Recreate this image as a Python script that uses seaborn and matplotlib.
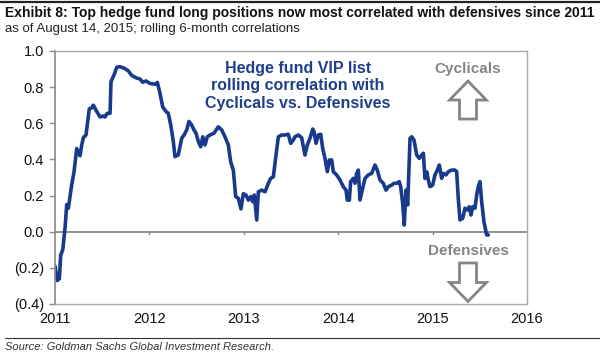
import numpy as np
import pandas as pd
import seaborn as sns
import matplotlib.pyplot as plt
from matplotlib.patches import FancyArrow
from matplotlib.lines import Line2D

# decimal year of each traced point
years = [2011.000, 2011.024, 2011.046, 2011.060, 2011.082, 2011.106, 2011.124, 2011.141,
         2011.177, 2011.201, 2011.230, 2011.265, 2011.283, 2011.300, 2011.328, 2011.363,
         2011.389, 2011.406, 2011.442, 2011.477, 2011.512, 2011.530, 2011.554, 2011.583,
         2011.593, 2011.625, 2011.654, 2011.689, 2011.731, 2011.776, 2011.812, 2011.865,
         2011.900, 2011.929, 2011.964, 2012.006, 2012.059, 2012.084, 2012.112, 2012.141,
         2012.176, 2012.200, 2012.226, 2012.253, 2012.271, 2012.306, 2012.342, 2012.367,
         2012.395, 2012.419, 2012.448, 2012.472, 2012.494, 2012.518, 2012.543, 2012.565,
         2012.589, 2012.613, 2012.642, 2012.684, 2012.730, 2012.766, 2012.801, 2012.836,
         2012.861, 2012.889, 2012.914, 2012.942, 2012.970, 2012.995, 2013.023, 2013.048,
         2013.073, 2013.094, 2013.111, 2013.137, 2013.154, 2013.190, 2013.225, 2013.260,
         2013.285, 2013.313, 2013.341, 2013.366, 2013.401, 2013.436, 2013.471, 2013.497,
         2013.524, 2013.542, 2013.577, 2013.613, 2013.648, 2013.673, 2013.701, 2013.730,
         2013.744, 2013.765, 2013.789, 2013.815, 2013.836, 2013.860, 2013.885, 2013.906,
         2013.931, 2013.948, 2013.984, 2014.019, 2014.054, 2014.083, 2014.096, 2014.118,
         2014.132, 2014.160, 2014.178, 2014.196, 2014.213, 2014.231, 2014.259, 2014.284,
         2014.319, 2014.355, 2014.390, 2014.414, 2014.443, 2014.478, 2014.506, 2014.531,
         2014.567, 2014.591, 2014.620, 2014.647, 2014.662, 2014.683, 2014.700, 2014.718,
         2014.736, 2014.761, 2014.779, 2014.803, 2014.832, 2014.859, 2014.885, 2014.902,
         2014.919, 2014.938, 2014.955, 2014.972, 2015.001, 2015.025, 2015.050, 2015.071,
         2015.096, 2015.113, 2015.142, 2015.166, 2015.202, 2015.237, 2015.255, 2015.272,
         2015.290, 2015.319, 2015.343, 2015.368, 2015.389, 2015.407, 2015.425, 2015.449,
         2015.467, 2015.484, 2015.502, 2015.520, 2015.544, 2015.573, 2015.590]

corr = [-0.19, -0.27, -0.26, -0.13, -0.10, 0.02, 0.15, 0.13,
        0.26, 0.33, 0.46, 0.42, 0.48, 0.52, 0.535, 0.68,
        0.685, 0.70, 0.665, 0.635, 0.64, 0.635, 0.655, 0.655,
        0.83, 0.867, 0.91, 0.913, 0.905, 0.89, 0.865, 0.85,
        0.845, 0.827, 0.834, 0.82, 0.816, 0.826, 0.766, 0.69,
        0.665, 0.655, 0.59, 0.50, 0.415, 0.425, 0.517, 0.535,
        0.563, 0.61, 0.59, 0.563, 0.545, 0.50, 0.47, 0.525,
        0.48, 0.525, 0.535, 0.545, 0.58, 0.563, 0.525, 0.48,
        0.387, 0.34, 0.194, 0.185, 0.126, 0.21, 0.203, 0.175,
        0.194, 0.166, 0.203, 0.065, 0.221, 0.23, 0.221, 0.268,
        0.295, 0.304, 0.424, 0.525, 0.535, 0.535, 0.539, 0.489,
        0.507, 0.525, 0.535, 0.52, 0.424, 0.48, 0.517, 0.568,
        0.553, 0.489, 0.535, 0.539, 0.46, 0.406, 0.332, 0.397,
        0.397, 0.332, 0.314, 0.286, 0.249, 0.23, 0.175, 0.175,
        0.277, 0.295, 0.268, 0.323, 0.341, 0.175, 0.24, 0.295,
        0.314, 0.323, 0.369, 0.341, 0.286, 0.268, 0.23, 0.249,
        0.258, 0.268, 0.268, 0.277, 0.249, 0.157, 0.037, 0.23,
        0.148, 0.517, 0.525, 0.507, 0.424, 0.406, 0.424, 0.434,
        0.295, 0.332, 0.286, 0.249, 0.258, 0.314, 0.341, 0.369,
        0.295, 0.323, 0.314, 0.332, 0.341, 0.341, 0.332, 0.185,
        0.065, 0.074, 0.13, 0.12, 0.138, 0.092, 0.138, 0.13,
        0.203, 0.249, 0.277, 0.166, 0.055, -0.018, -0.018]

x_ticks = [2011, 2012, 2013, 2014, 2015, 2016]
y_ticks = [-0.4, -0.2, 0.0, 0.2, 0.4, 0.6, 0.8, 1.0]
y_labels = ['(0.4)', '(0.2)', '0.0', '0.2', '0.4', '0.6', '0.8', '1.0']

df = pd.DataFrame({'year': years, 'corr': corr})

sns.set_style('white')
plt.rcParams['font.family'] = ['Liberation Sans', 'DejaVu Sans']

fig = plt.figure(figsize=(6, 3.52), dpi=100)
ax = fig.add_axes([0.0917, 0.1364, 0.7866, 0.7188])

navy = '#173a8c'
grey = '#8a8a8a'

sns.lineplot(data=df, x='year', y='corr', ax=ax, color=navy, linewidth=2.6)

ax.set_xlim(2011, 2016)
ax.set_ylim(-0.4, 1.0)
ax.axhline(0, color='#7f7f7f', linewidth=1.2, zorder=1)

ax.set_yticks(y_ticks)
ax.set_yticklabels(y_labels)
ax.set_xticks(x_ticks)
ax.set_xticklabels([str(t) for t in x_ticks])
ax.tick_params(axis='y', length=4, width=1, color=grey, labelsize=10.5, pad=4,
               left=True, labelcolor='#111111')
ax.tick_params(axis='x', length=0, labelsize=10.5, pad=6, labelcolor='#111111')
for yr in x_ticks[1:-1]:
    ax.plot([yr, yr], [0, -0.015], color='#7f7f7f', linewidth=1, clip_on=False)

for side in ['top', 'right', 'bottom']:
    ax.spines[side].set_color('#aaaaaa')
    ax.spines[side].set_linewidth(1)
ax.spines['left'].set_color('#888888')
ax.spines['left'].set_linewidth(1.2)
ax.set_xlabel('')
ax.set_ylabel('')

ax.text(0.515, 0.862, 'Hedge fund VIP list\nrolling correlation with\nCyclicals vs. Defensives',
        transform=ax.transAxes, ha='center', va='center', fontsize=11.5,
        fontweight='bold', color='#203f8a', linespacing=1.2)

ax.text(0.875, 0.93, 'Cyclicals', transform=ax.transAxes, ha='center', va='center',
        fontsize=11, fontweight='bold', color='#858585')
ax.add_patch(FancyArrow(0.875, 0.731, 0, 0.15, width=0.036, head_width=0.078,
                        head_length=0.075, length_includes_head=True,
                        transform=ax.transAxes, facecolor='white',
                        edgecolor='#858585', linewidth=2))

ax.text(0.875, 0.21, 'Defensives', transform=ax.transAxes, ha='center', va='center',
        fontsize=11, fontweight='bold', color='#858585')
ax.add_patch(FancyArrow(0.875, 0.162, 0, -0.152, width=0.036, head_width=0.078,
                        head_length=0.075, length_includes_head=True,
                        transform=ax.transAxes, facecolor='white',
                        edgecolor='#858585', linewidth=2))

fig.add_artist(Line2D([0, 1], [0.994, 0.994], color='#222222', linewidth=1.6))
fig.text(0.008, 0.962, 'Exhibit 8: Top hedge fund long positions now most correlated with defensives since 2011',
         ha='left', va='center', fontsize=10, fontweight='bold', color='#111111')
fig.text(0.008, 0.917, 'as of August 14, 2015; rolling 6-month correlations',
         ha='left', va='center', fontsize=9.5, color='#222222')

fig.add_artist(Line2D([0.008, 1], [0.04, 0.04], color='#333333', linewidth=0.8))
fig.text(0.008, 0.015, 'Source: Goldman Sachs Global Investment Research.',
         ha='left', va='center', fontsize=8, style='italic', color='#333333')

fig.savefig('out.png', dpi=100)
